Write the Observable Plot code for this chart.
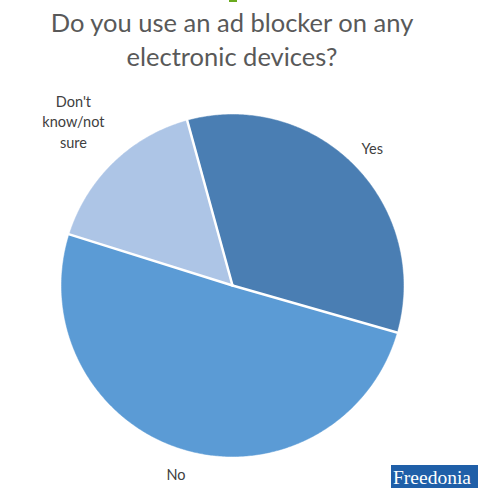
<!DOCTYPE html>
<html>
<head>
<meta charset="utf-8">
<script src="https://cdn.jsdelivr.net/npm/d3@7"></script>
<script src="https://cdn.jsdelivr.net/npm/@observablehq/plot@0.6"></script>
<style>
  html, body { margin: 0; padding: 0; background: #fff; }
  body { width: 478px; height: 492px; position: relative; overflow: hidden; font-family: Lato, "Open Sans", sans-serif; }
  #accent { position: absolute; left: 229px; top: 0; width: 8px; height: 2px; background: #6aaa1e; }
  #title { position: absolute; left: 0; top: 5px; width: 464px; text-align: center; font-size: 25.5px; line-height: 34px; color: #595959; }
  #chart { position: absolute; left: 0; top: 82px; }
  #logo { position: absolute; left: 391px; top: 465px; width: 87px; height: 23px; background: #1f5fa8; color: #fff;
          font-family: "Liberation Serif", "DejaVu Serif", serif; font-size: 19.5px; line-height: 26px; padding-left: 2px; overflow: hidden; white-space: nowrap; }
</style>
</head>
<body>
<div id="accent"></div>
<div id="title">Do you use an ad blocker on any<br>electronic devices?</div>
<div id="chart"></div>
<div id="logo">Freedonia</div>
<script>
const categories = ["Yes", "No", "Don't know/not sure"];
const values = [33.7, 50.4, 15.9];
const colors = ["#4a7eb3", "#5b9bd5", "#adc5e6"];
const labelLines = [["Yes"], ["No"], ["Don't", "know/not", "sure"]];

const startDeg = -15.35;
const pie = d3.pie().sort(null).startAngle(startDeg * Math.PI / 180).endAngle((startDeg + 360) * Math.PI / 180);
const arcs = pie(values);

// polygon outline of each slice (unit circle, angle clockwise from 12 o'clock)
const slices = [];
arcs.forEach((a, i) => {
  slices.push({cat: categories[i], x: 0, y: 0});
  const n = Math.max(2, Math.ceil((a.endAngle - a.startAngle) / 0.01));
  for (let k = 0; k <= n; k++) {
    const t = a.startAngle + (a.endAngle - a.startAngle) * k / n;
    slices.push({cat: categories[i], x: Math.sin(t), y: Math.cos(t)});
  }
});

// boundary spokes (white separators)
const spokes = [];
arcs.forEach((a, i) => {
  spokes.push({id: i, x: 0, y: 0});
  spokes.push({id: i, x: Math.sin(a.startAngle), y: Math.cos(a.startAngle)});
});

// labels outside at mid-angle
const labels = [];
arcs.forEach((a, i) => {
  const mid = (a.startAngle + a.endAngle) / 2;
  const lines = labelLines[i];
  const rr = lines.length > 1 ? 1.34 : 1.15;
  labels.push({text: lines.join("\n"), x: rr * Math.sin(mid), y: rr * Math.cos(mid)});
});

const chart = Plot.plot({
  width: 478,
  height: 410,
  margin: 0,
  x: {domain: [-1, 1], range: [61, 403], axis: null},
  y: {domain: [-1, 1], range: [374, 32], axis: null},
  color: {domain: categories, range: colors},
  marks: [
    Plot.line(slices, {x: "x", y: "y", z: "cat", fill: "cat", stroke: "cat", strokeWidth: 0.5, curve: "linear-closed"}),
    Plot.line(spokes, {x: "x", y: "y", z: "id", stroke: "#fff", strokeWidth: 2.5}),
    Plot.text(labels, {x: "x", y: "y", text: "text", fill: "#404040", fontSize: 14.5, lineHeight: 1.42, fontFamily: "Lato, 'Open Sans', sans-serif"})
  ]
});
document.getElementById("chart").appendChild(chart);
</script>
</body>
</html>
